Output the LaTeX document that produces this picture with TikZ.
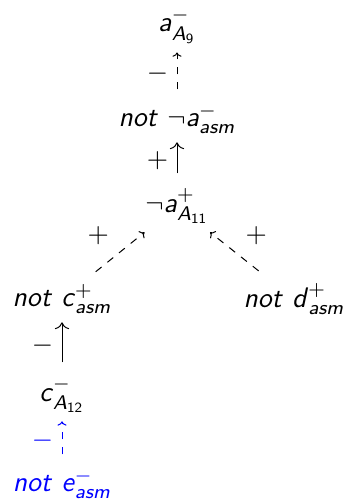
\documentclass[tikz,border=0pt]{standalone}
\usepackage{amsmath}
\usetikzlibrary{arrows.meta}
\newcommand{\sv}[1]{\textsf{\textit{#1}}}

\begin{document}
\begin{tikzpicture}[x=0.4pt, y=-0.4pt,
  every node/.style={font=\fontsize{11.3}{13}\selectfont},
  weak/.style={-{To[scale=0.7]}, dashed, shorten <=2.5pt},
  strong/.style={-{To[scale=1.1]}, shorten <=2.5pt}]
  \useasboundingbox (0,0) rectangle (348,500);

  \node (a9)   at (177,26)  {$\sv{a}^{-}_{\sv{A}_{\textsf{9}}}$};
  \node (nasm) at (177,119) {\sv{not} $\neg\sv{a}^{-}_{\sv{asm}}$};
  \node (a11)  at (177,206) {$\neg\sv{a}^{+}_{\sv{A}_{\textsf{11}}}$};
  \node (nc)   at (62,299)  {\sv{not} $\sv{c}^{+}_{\sv{asm}}$};
  \node (nd)   at (294,299) {\sv{not} $\sv{d}^{+}_{\sv{asm}}$};
  \node (c12)  at (62,395)  {$\sv{c}^{-}_{\sv{A}_{\textsf{12}}}$};
  \node[blue] (ne) at (62,484) {\sv{not} $\sv{e}^{-}_{\sv{asm}}$};

  \draw[weak] (nasm) -- node[left] {$-$} (a9);
  \draw[strong] (a11) -- node[left] {$+$} (nasm);
  \draw[weak] (nc) -- node[above left] {$+$} (a11);
  \draw[weak] (nd) -- node[above right] {$+$} (a11);
  \draw[strong] (c12) -- node[left] {$-$} (nc);
  \draw[weak, blue] (ne) -- node[left] {$-$} (c12);
\end{tikzpicture}
\end{document}
